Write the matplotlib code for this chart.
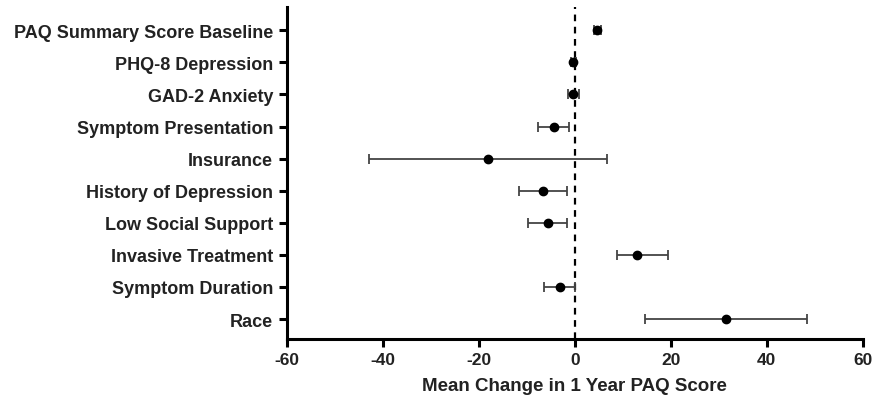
import matplotlib
matplotlib.use("Agg")
import matplotlib.pyplot as plt

labels = ["PAQ Summary Score Baseline", "PHQ-8 Depression", "GAD-2 Anxiety",
          "Symptom Presentation", "Insurance", "History of Depression",
          "Low Social Support", "Invasive Treatment", "Symptom Duration", "Race"]
means = [4.7, -0.3, -0.3, -4.4, -18.2, -6.7, -5.7, 13.0, -3.1, 31.4]
lower = [4.0, -0.9, -1.4, -7.7, -43.0, -11.7, -9.7, 8.8, -6.4, 14.6]
upper = [5.4, 0.3, 0.9, -1.3, 6.6, -1.7, -1.7, 19.4, 0.0, 48.3]

plt.rcParams['font.family'] = ['Liberation Sans', 'DejaVu Sans']
plt.rcParams['axes.unicode_minus'] = False

fig = plt.figure(figsize=(8.75, 4.1), dpi=100)
ax = fig.add_axes([0.328, 0.171, 0.658, 0.809])

ys = list(range(len(labels)))
xerr = [[m - l for m, l in zip(means, lower)], [u - m for m, u in zip(means, upper)]]
ax.errorbar(means, ys, xerr=xerr, fmt='o', color='black', ecolor='#444444',
            elinewidth=1.3, capsize=3.5, capthick=1.3, markersize=6, zorder=3)
ax.axvline(0, color='black', linestyle=(0, (3, 2.5)), linewidth=1.6, zorder=2)

ax.set_xlim(-60, 60)
ax.set_ylim(len(labels) - 0.38, -0.72)
ax.set_xticks([-60, -40, -20, 0, 20, 40, 60])
ax.set_yticks(ys)
ax.set_yticklabels(labels, fontsize=13, fontweight='bold', color='#222222')
for t in ax.get_xticklabels():
    t.set_fontsize(12.5)
    t.set_fontweight('bold')
    t.set_color('#222222')
ax.set_xlabel("Mean Change in 1 Year PAQ Score", fontsize=13.5, fontweight='bold',
              color='#222222', labelpad=7)

for s in ['top', 'right']:
    ax.spines[s].set_visible(False)
for s in ['left', 'bottom']:
    ax.spines[s].set_linewidth(2.2)
ax.tick_params(axis='both', width=2.2, length=6, direction='out')
ax.tick_params(axis='y', pad=4)

fig.savefig("out.png", dpi=100)
